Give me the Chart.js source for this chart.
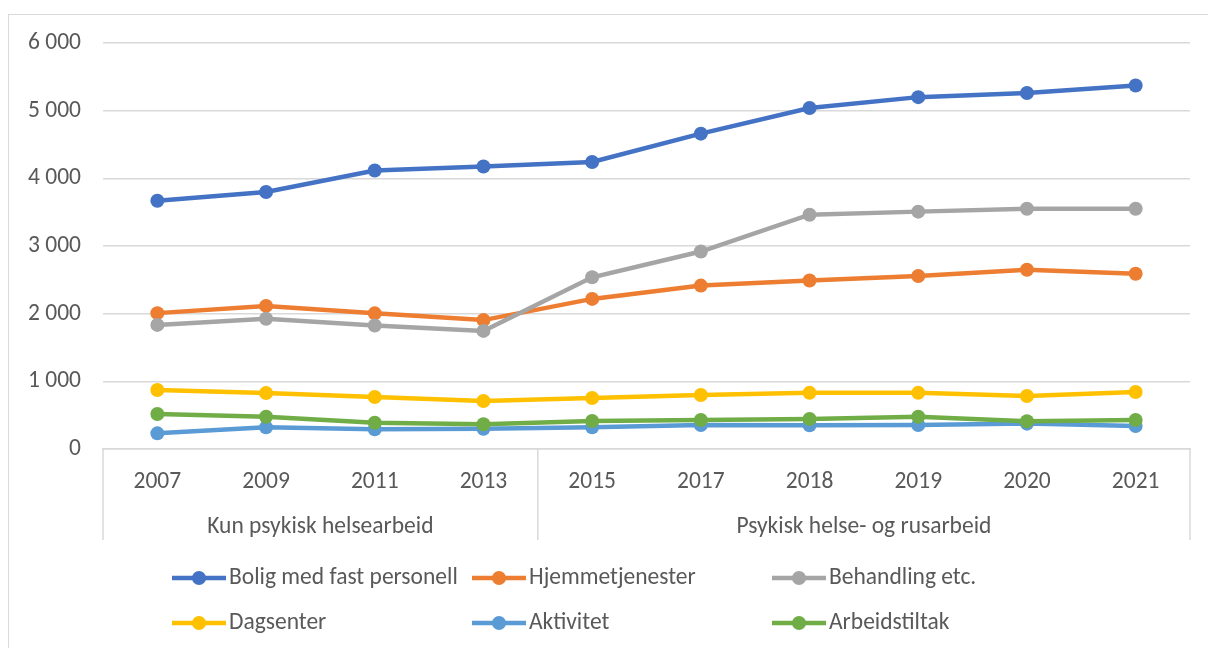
<!DOCTYPE html>
<html>
<head>
<meta charset="utf-8">
<script src="https://cdn.jsdelivr.net/npm/chart.js@4"></script>
<style>
  html, body { margin: 0; padding: 0; background: #fff; }
  .frame {
    position: absolute; left: 8px; top: 14px;
    width: 1210px; height: 640px;
    border: 1px solid #d9d9d9; box-sizing: border-box;
  }
  canvas { position: absolute; left: 0; top: 0; }
</style>
</head>
<body>
<div class="frame"></div>
<canvas id="chart" width="1208" height="648"></canvas>
<script>
const years = ['2007', '2009', '2011', '2013', '2015', '2017', '2018', '2019', '2020', '2021'];
const groups = [
    { label: 'Kun psykisk helsearbeid', from: 0, to: 3 },
    { label: 'Psykisk helse- og rusarbeid', from: 4, to: 9 }
];
const seriesNames = ['Bolig med fast personell', 'Hjemmetjenester', 'Behandling etc.', 'Dagsenter', 'Aktivitet', 'Arbeidstiltak'];
const bolig = [3668, 3797, 4115, 4175, 4241, 4660, 5040, 5200, 5260, 5372];
const hjemme = [2008, 2115, 2005, 1905, 2218, 2415, 2490, 2556, 2648, 2590];
const behandling = [1834, 1925, 1826, 1745, 2538, 2918, 3462, 3508, 3550, 3550];
const dagsenter = [872, 826, 768, 709, 754, 798, 830, 830, 783, 842];
const aktivitet = [231, 320, 291, 300, 320, 355, 352, 355, 375, 340];
const arbeid = [517, 477, 389, 365, 414, 429, 443, 477, 409, 429];
const yTicks = [0, 1000, 2000, 3000, 4000, 5000, 6000];

const colors = ['#4472C4', '#ED7D31', '#A5A5A5', '#FFC000', '#5B9BD5', '#70AD47'];
const values = [bolig, hjemme, behandling, dagsenter, aktivitet, arbeid];
const FONT = 'Calibri, Carlito, "Noto Sans", sans-serif';
const FONT_SIZE = 23.5;
const TEXT = '#595959';
const GRID = '#d9d9d9';

function fmt(v) {
    return String(v).replace(/\B(?=(\d{3})+(?!\d))/g, ' ');
}

// kategoriakse i to nivåer + egen legende
const groupAxis = {
    id: 'groupAxis',
    afterDraw(chart) {
        const { ctx, chartArea } = chart;
        const x = chart.scales.x;
        const half = (x.getPixelForValue(1) - x.getPixelForValue(0)) / 2;
        const bottom = chartArea.bottom + 91;
        ctx.save();
        ctx.strokeStyle = GRID;
        ctx.lineWidth = 1.5;
        const edges = [x.getPixelForValue(0) - half];
        groups.forEach((g) => edges.push(x.getPixelForValue(g.to) + half));
        edges.forEach((ex) => {
            ctx.beginPath();
            ctx.moveTo(ex, chartArea.bottom);
            ctx.lineTo(ex, bottom);
            ctx.stroke();
        });
        ctx.fillStyle = TEXT;
        ctx.font = FONT_SIZE + 'px ' + FONT;
        ctx.textAlign = 'center';
        ctx.textBaseline = 'middle';
        groups.forEach((g) => {
            const l = x.getPixelForValue(g.from) - half;
            const r = x.getPixelForValue(g.to) + half;
            ctx.fillText(g.label, (l + r) / 2, chartArea.bottom + 78);
        });

        // legende
        ctx.textAlign = 'left';
        chart.data.datasets.forEach((ds, i) => {
            const lx = 172 + (i % 3) * 300;
            const ly = 578 + Math.floor(i / 3) * 45;
            ctx.strokeStyle = ds.borderColor;
            ctx.lineWidth = 4.5;
            ctx.beginPath();
            ctx.moveTo(lx, ly);
            ctx.lineTo(lx + 54, ly);
            ctx.stroke();
            ctx.fillStyle = ds.borderColor;
            ctx.beginPath();
            ctx.arc(lx + 27, ly, 7, 0, Math.PI * 2);
            ctx.fill();
            ctx.fillStyle = TEXT;
            ctx.fillText(ds.label, lx + 57, ly);
        });
        ctx.restore();
    }
};

new Chart(document.getElementById('chart'), {
    type: 'line',
    data: {
        labels: years,
        datasets: seriesNames.map((name, i) => ({
            label: name,
            data: values[i],
            borderColor: colors[i],
            backgroundColor: colors[i],
            borderWidth: 4.5,
            pointRadius: 7,
            pointBorderWidth: 0,
            pointHoverRadius: 7,
            tension: 0,
            order: seriesNames.length - i
        }))
    },
    options: {
        responsive: false,
        animation: false,
        layout: { padding: { top: 43, left: 0, right: 18, bottom: 0 } },
        plugins: {
            legend: { display: false },
            tooltip: { enabled: false }
        },
        scales: {
            x: {
                offset: true,
                grid: { display: false },
                border: { color: GRID, width: 1.5 },
                ticks: {
                    color: TEXT,
                    font: { family: FONT, size: FONT_SIZE },
                    padding: 11,
                    maxRotation: 0
                },
                afterFit(scale) { scale.height = 199; }
            },
            y: {
                min: 0,
                max: 6000,
                afterBuildTicks(scale) { scale.ticks = yTicks.map((v) => ({ value: v })); },
                grid: { color: GRID, lineWidth: 1.5, drawTicks: false },
                border: { display: false },
                ticks: {
                    color: TEXT,
                    font: { family: FONT, size: FONT_SIZE },
                    padding: 22,
                    callback: (v) => fmt(v)
                },
                afterFit(scale) { scale.width = 103; }
            }
        }
    },
    plugins: [groupAxis]
});
</script>
</body>
</html>
